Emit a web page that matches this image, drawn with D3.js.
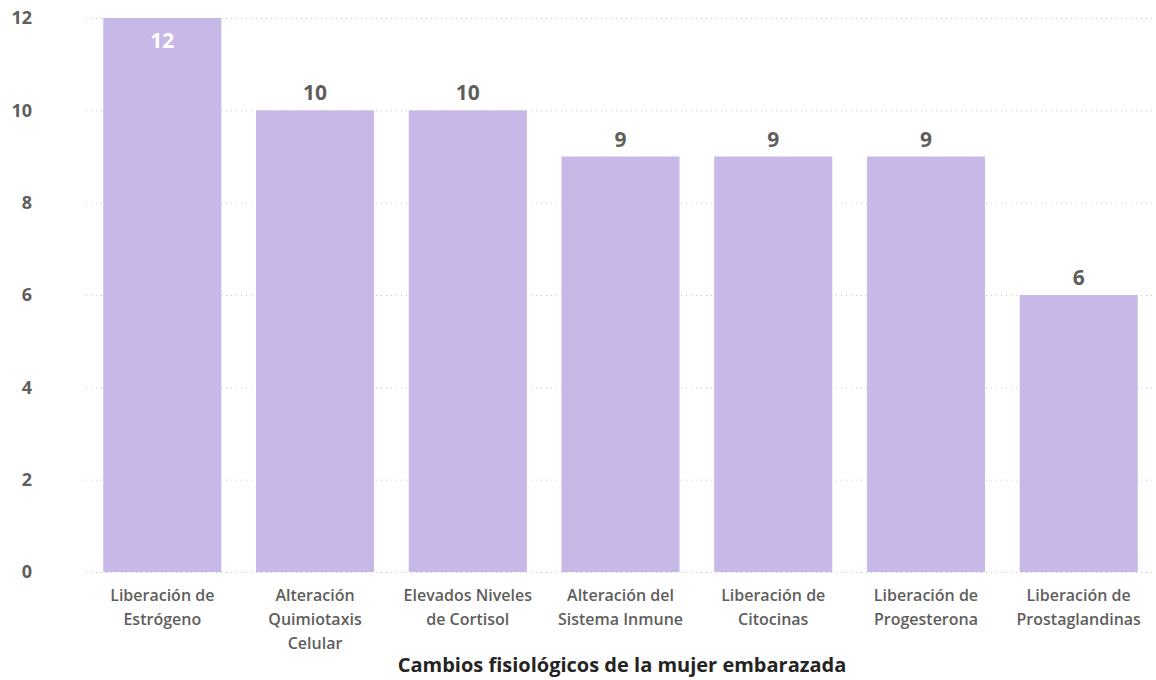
<!DOCTYPE html>
<html lang="es">
<head>
<meta charset="UTF-8">
<title>Cambios fisiológicos de la mujer embarazada</title>
<style>
  body { margin: 0; background: #fff; }
  text { font-family: "Open Sans", "Noto Sans", sans-serif; }
  .grid line { stroke: #c8c8c8; stroke-dasharray: 1 4; }
  .grid .domain { display: none; }
</style>
</head>
<body>
<svg width="1156" height="680"></svg>
<script src="https://d3js.org/d3.v7.min.js"></script>
<script>
var categories = ["Liberación de Estrógeno", "Alteración Quimiotaxis Celular", "Elevados Niveles de Cortisol",
                  "Alteración del Sistema Inmune", "Liberación de Citocinas", "Liberación de Progesterona",
                  "Liberación de Prostaglandinas"];
var values = [12, 10, 10, 9, 9, 9, 6];
var yTicks = [0, 2, 4, 6, 8, 10, 12];
var xTitle = "Cambios fisiológicos de la mujer embarazada";

var svg = d3.select("svg"),
    margin = {top: 18, right: 1, bottom: 108, left: 86},
    width = +svg.attr("width") - margin.left - margin.right,
    height = +svg.attr("height") - margin.top - margin.bottom,
    g = svg.append("g").attr("transform", "translate(" + margin.left + "," + margin.top + ")");

var x = d3.scaleBand().domain(categories).range([0, width]).paddingInner(0.227).paddingOuter(0.113);
var y = d3.scaleLinear().domain([0, 12]).range([height, 0]);

// gridlines
g.append("g")
  .attr("class", "grid")
  .call(d3.axisLeft(y).tickValues(yTicks).tickSize(-width).tickFormat(""));

// y labels
g.append("g").selectAll("text")
  .data(yTicks)
  .enter().append("text")
    .attr("x", -54)
    .attr("y", function(d) { return y(d); })
    .attr("dy", "0.35em")
    .attr("text-anchor", "end")
    .attr("fill", "#605e5c")
    .attr("font-size", "18px")
    .attr("font-weight", 700)
    .text(function(d) { return d; });

// bars
g.selectAll(".bar")
  .data(values)
  .enter().append("rect")
    .attr("class", "bar")
    .attr("x", function(d, i) { return x(categories[i]); })
    .attr("y", function(d) { return y(d); })
    .attr("width", x.bandwidth())
    .attr("height", function(d) { return height - y(d); })
    .attr("fill", "#c8b8e8");

// value labels
g.selectAll(".val")
  .data(values)
  .enter().append("text")
    .attr("class", "val")
    .attr("x", function(d, i) { return x(categories[i]) + x.bandwidth() / 2; })
    .attr("y", function(d) { return y(d) > 40 ? y(d) - 10 : y(d) + 30; })
    .attr("text-anchor", "middle")
    .attr("fill", function(d) { return y(d) > 40 ? "#605e5c" : "#ffffff"; })
    .attr("font-size", "21px")
    .attr("font-weight", 700)
    .text(function(d) { return d; });

// category labels with wrapping
var cat = g.append("g").selectAll("text")
  .data(categories)
  .enter().append("text")
    .attr("x", function(d) { return x(d) + x.bandwidth() / 2; })
    .attr("y", height + 29)
    .attr("text-anchor", "middle")
    .attr("fill", "#605e5c")
    .attr("font-size", "16px")
    .attr("font-weight", 600);

cat.each(function(d) {
  var t = d3.select(this), words = d.split(" "), line = [];
  var tspan = t.append("tspan").attr("x", t.attr("x")).attr("dy", 0);
  words.forEach(function(w) {
    line.push(w);
    tspan.text(line.join(" "));
    if (tspan.node().getComputedTextLength() > 138 && line.length > 1) {
      line.pop();
      tspan.text(line.join(" "));
      line = [w];
      tspan = t.append("tspan").attr("x", t.attr("x")).attr("dy", 24).text(w);
    }
  });
});

// axis title
svg.append("text")
  .attr("x", 622)
  .attr("y", 672)
  .attr("text-anchor", "middle")
  .attr("fill", "#252423")
  .attr("font-size", "20px")
  .attr("font-weight", 700)
  .text(xTitle);
</script>
</body>
</html>
